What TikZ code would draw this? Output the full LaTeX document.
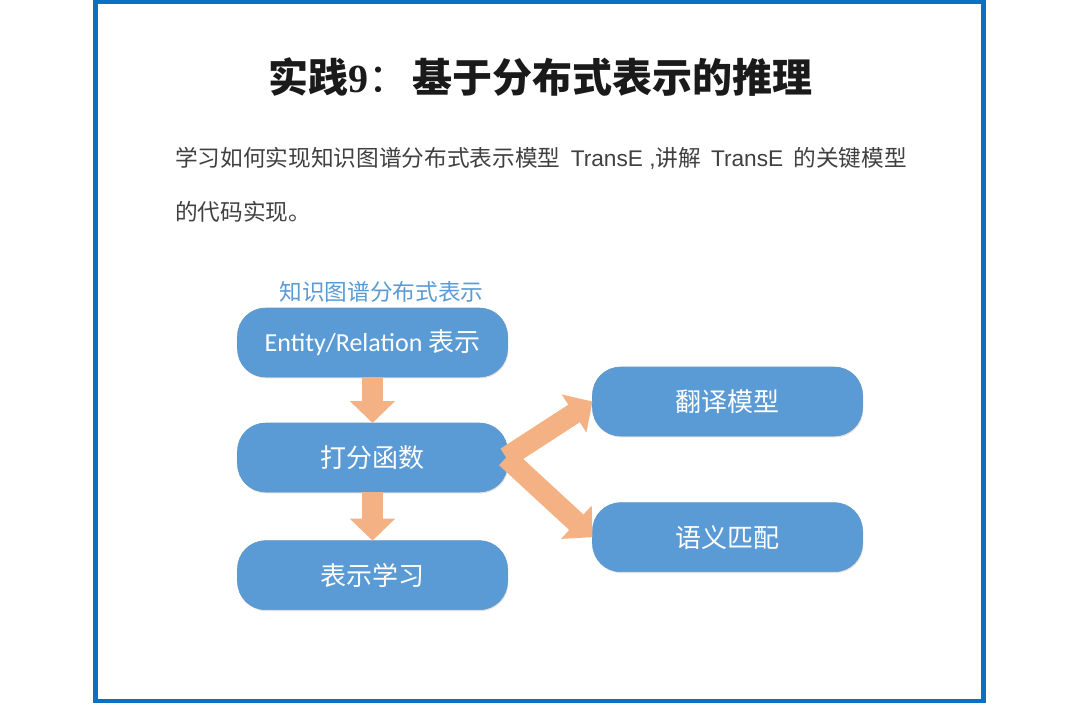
\documentclass[tikz,border=0pt]{standalone}
\usepackage{fontspec}
\setmainfont{Liberation Sans}
\newfontfamily\cjk{Noto Sans CJK SC}
\newfontfamily\numserif{Liberation Serif}
\newfontfamily\boxlatin{Carlito}
\usetikzlibrary{arrows.meta,positioning,shadows}
\definecolor{kgFrame}{HTML}{0A70C4}
\definecolor{kgBlue}{HTML}{5B9BD5}
\definecolor{kgOrange}{HTML}{F4B183}
\definecolor{kgInk}{HTML}{1A1A1A}
\definecolor{kgGray}{HTML}{404040}
\tikzset{
  every picture/.style={text=kgInk},
  kg frame/.style={draw=kgFrame, line width=3.4pt},
  kg box/.style={draw=kgBlue!85!gray, line width=0.4pt, fill=kgBlue,
    rounded corners=21pt, minimum width=202.5pt, minimum height=51.75pt,
    outer sep=0pt, text=white, font=\cjk\fontsize{19.5}{24}\selectfont,
    drop shadow={shadow xshift=0.6pt, shadow yshift=-1pt, opacity=0.25}},
  kg flow/.style={-{Triangle[length=16.5pt,width=33pt]},
    draw=kgOrange, line width=15.75pt, line cap=butt},
  kg caption/.style={text=kgBlue, font=\cjk\fontsize{17}{20}\selectfont},
  kg body/.style={anchor=west, inner sep=0pt, text=kgGray,
    font=\cjk\fontsize{17}{20}\selectfont}
}
\newcommand{\latin}[1]{{\rmfamily #1}}

\begin{document}
\begin{tikzpicture}[x=0.75pt,y=-0.75pt]
  \useasboundingbox (0,0) rectangle (1080,703);
  \draw[kg frame] (95.5,1.5) rectangle (983.5,701);
  % heading and intro
  \node (title) at (540,77) {\fontsize{30}{36}\selectfont
    {\cjk\bfseries 实践}{\numserif\bfseries 9}{\cjk ：}\hspace{3pt}{\cjk\bfseries 基于分布式表示的推理}};
  \node[kg body] (line1) at (175,158)
    {学习如何实现知识图谱分布式表示模型\ \ \latin{TransE ,}讲解\ \ \latin{TransE}\ \ 的关键模型};
  \node[kg body] (line2) at (175,212) {的代码实现。};
  % flow
  \node[kg box] (ent) at (372.5,342.5) {{\boxlatin Entity/Relation} 表示};
  \node[kg caption, above=1pt of ent, xshift=6.75pt] (cap) {知识图谱分布式表示};
  \node[kg box, below=34.5pt of ent] (score) {打分函数};
  \node[kg box, below=36.5pt of score] (learn) {表示学习};
  \node[kg box] (trans) at (727.5,401.5) {翻译模型};
  \node[kg box, below=50pt of trans] (sem) {语义匹配};
  \draw[kg flow] (ent) -- (score);
  \draw[kg flow] (score) -- (learn);
  \draw[kg flow] ([xshift=-1pt]score.east) -- (trans.west);
  \draw[kg flow] ([xshift=-1pt]score.east) -- (sem.west);
\end{tikzpicture}
\end{document}
